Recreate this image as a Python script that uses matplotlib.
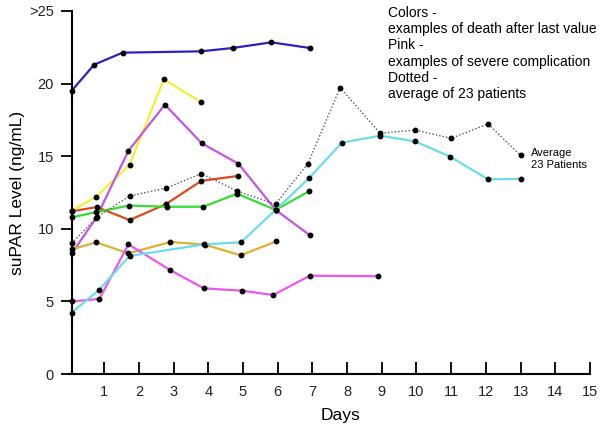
import matplotlib.pyplot as plt

plt.rcParams['font.family'] = ['Liberation Sans', 'DejaVu Sans']

# days / suPAR values
blue_x = [0.06, 0.71, 1.53, 3.78, 4.70, 5.82, 6.93]
blue_y = [19.5, 21.3, 22.13, 22.22, 22.45, 22.84, 22.45]

yellow_x = [0.06, 0.77, 1.73, 2.72, 3.78]
yellow_y = [11.25, 12.2, 14.4, 20.3, 18.73]

violet_x = [0.08, 0.77, 1.70, 2.75, 3.81, 4.87, 5.94, 6.93]
violet_y = [8.35, 10.75, 15.38, 18.55, 15.89, 14.48, 11.3, 9.55]

red_x = [0.06, 0.79, 1.73, 2.78, 3.80, 4.86]
red_y = [11.2, 11.5, 10.6, 11.7, 13.3, 13.64]

green_x = [0.06, 0.77, 1.72, 2.80, 3.86, 4.83, 5.94, 6.90]
green_y = [10.78, 11.15, 11.6, 11.52, 11.52, 12.42, 11.3, 12.58]

avg_x = [0.06, 0.79, 1.73, 2.78, 3.80, 4.83, 5.94, 6.87, 7.80, 8.95, 9.96, 11.0, 12.06, 13.0]
avg_y = [9.0, 10.8, 12.26, 12.8, 13.8, 12.6, 11.7, 14.48, 19.72, 16.58, 16.8, 16.23, 17.22, 15.06]

cyan_x = [0.06, 0.85, 1.73, 3.89, 4.94, 5.94, 6.90, 7.85, 8.95, 9.96, 10.97, 12.06, 13.0]
cyan_y = [4.22, 5.79, 8.13, 8.93, 9.07, 11.3, 13.48, 15.93, 16.41, 16.02, 14.97, 13.41, 13.43]

gold_x = [0.08, 0.77, 1.70, 2.91, 3.90, 4.93, 5.96]
gold_y = [8.59, 9.07, 8.31, 9.09, 8.91, 8.17, 9.14]

pink_x = [0.08, 0.86, 1.70, 2.90, 3.87, 4.96, 5.87, 6.93, 8.90]
pink_y = [5.0, 5.17, 8.93, 7.16, 5.9, 5.74, 5.44, 6.77, 6.73]

y_ticks = [0, 5, 10, 15, 20, 25]
y_tick_labels = ['0', '5', '10', '15', '20', '>25']
x_ticks = list(range(1, 16))

fig = plt.figure(figsize=(6, 4.24), dpi=100)
ax = fig.add_axes([0.1158, 0.1179, 0.8675, 0.8562])

series = [
    (blue_x, blue_y, '#2a22c0'),
    (yellow_x, yellow_y, '#f2f030'),
    (violet_x, violet_y, '#c455e6'),
    (red_x, red_y, '#dc4a1e'),
    (green_x, green_y, '#33dd33'),
    (gold_x, gold_y, '#e0b030'),
    (pink_x, pink_y, '#ee55ee'),
    (cyan_x, cyan_y, '#6adcec'),
]
for xs, ys, c in series:
    ax.plot(xs, ys, color=c, lw=1.6, marker='o', ms=3.2,
            mfc='black', mec='black', zorder=2)

# dotted average line
ax.plot(avg_x, avg_y, color='#555555', lw=1.0, ls=(0, (1, 1.5)),
        marker='o', ms=3.2, mfc='black', mec='black', zorder=3)

ax.set_xlim(0, 15)
ax.set_ylim(0, 25)
for s in ['top', 'right']:
    ax.spines[s].set_visible(False)
ax.spines['left'].set_position(('data', 0.07))
ax.spines['left'].set_linewidth(1.5)
ax.spines['bottom'].set_linewidth(1.5)

ax.set_yticks(y_ticks)
ax.set_yticklabels(y_tick_labels)
ax.set_xticks(x_ticks)
ax.tick_params(axis='y', direction='out', length=8, width=1.3, labelsize=10.5,
               pad=5, labelcolor='#222222')
ax.tick_params(axis='x', direction='in', length=9, width=1.3, labelsize=10.5,
               pad=8, labelcolor='#222222')

ax.set_ylabel('suPAR Level (ng/mL)', fontsize=12.5)
ax.yaxis.set_label_coords(-0.086, 0.5)
ax.set_xlabel('Days', fontsize=12.5)
ax.xaxis.set_label_coords(0.52, -0.095)

fig.text(388 / 600, 1 - 6 / 424,
         'Colors -\nexamples of death after last value\nPink -\n'
         'examples of severe complication\nDotted -\naverage of 23 patients',
         fontsize=10, va='top', ha='left', linespacing=1.2)
fig.text(531 / 600, 1 - 159 / 424, 'Average\n23 Patients',
         fontsize=8, va='center', ha='left', linespacing=1.2)

fig.savefig('out.png', dpi=100)
